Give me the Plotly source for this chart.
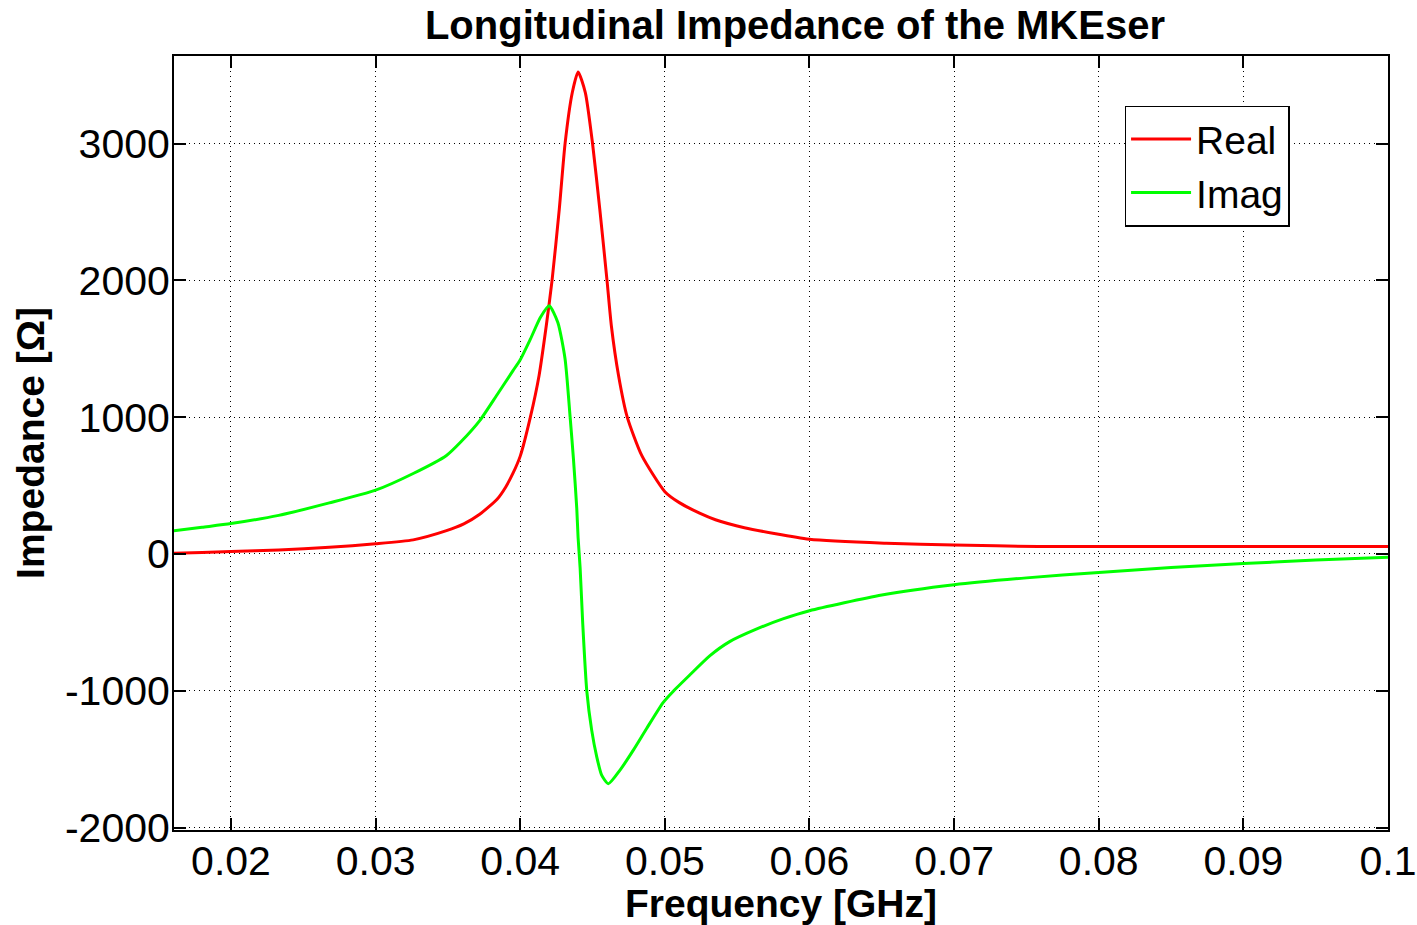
import plotly.graph_objects as go

freq_real = [0.016, 0.018, 0.02, 0.0233, 0.0268, 0.03, 0.0326, 0.0349, 0.0361, 0.0372,
             0.0384, 0.039, 0.0395, 0.04, 0.0407, 0.0413, 0.0418, 0.0422, 0.0427,
             0.0431, 0.0436, 0.044, 0.0445, 0.045, 0.0455, 0.046, 0.0463, 0.0468,
             0.0474, 0.0484, 0.05, 0.051, 0.0524, 0.0535, 0.0555, 0.06, 0.0653, 0.07,
             0.0758, 0.08, 0.09, 0.1]
z_real = [5, 10, 17, 29, 49, 74, 103, 170, 220, 290,
          400, 490, 590, 715, 1000, 1303, 1668, 2000, 2520,
          3000, 3373, 3523, 3373, 3000, 2520, 2000, 1668, 1303,
          1000, 720, 455, 375, 298, 250, 192, 107, 78, 66,
          54, 54, 54, 54]

freq_imag = [0.016, 0.018, 0.02, 0.0233, 0.0268, 0.03, 0.0326, 0.0349, 0.0359, 0.0372,
             0.0384, 0.0395, 0.04, 0.0407, 0.0414, 0.042, 0.0426, 0.0431, 0.04345,
             0.04368, 0.04391, 0.044, 0.04414, 0.04432, 0.0446, 0.04494, 0.04529,
             0.04563, 0.04609, 0.0469, 0.04782, 0.04874, 0.04989, 0.05057, 0.05172,
             0.0531, 0.05448, 0.05632, 0.05816, 0.06, 0.065, 0.07, 0.075, 0.08,
             0.085, 0.09, 0.095, 0.1]
z_imag = [168, 195, 222, 282, 373, 466, 588, 720, 820, 975,
          1164, 1340, 1420, 1570, 1730, 1814, 1692, 1425, 1000,
          694, 329, 120, -100, -507, -1000, -1288, -1483,
          -1617, -1680, -1580, -1434, -1276, -1085, -1005, -885,
          -745, -641, -550, -475, -415, -300, -225, -175, -135,
          -100, -70, -45, -24]

x_ticks = [0.02, 0.03, 0.04, 0.05, 0.06, 0.07, 0.08, 0.09, 0.1]
x_ticklabels = ["0.02", "0.03", "0.04", "0.05", "0.06", "0.07", "0.08", "0.09", "0.1"]
y_ticks = [-2000, -1000, 0, 1000, 2000, 3000]
y_ticklabels = ["-2000", "-1000", "0", "1000", "2000", "3000"]

font = "Liberation Sans, Arial, Helvetica, sans-serif"

fig = go.Figure()
fig.add_trace(go.Scatter(x=freq_real, y=z_real, mode="lines", name="Real",
                         line=dict(color="#FF0000", width=3, shape="spline", smoothing=0.6)))
fig.add_trace(go.Scatter(x=freq_imag, y=z_imag, mode="lines", name="Imag",
                         line=dict(color="#00FF00", width=3, shape="spline", smoothing=0.6)))

axis_common = dict(
    showline=True, linecolor="black", linewidth=2, mirror="ticks",
    ticks="inside", ticklen=12, tickwidth=1.5, tickcolor="black",
    showgrid=True, gridcolor="black", gridwidth=1, griddash="1px,4px",
    zeroline=False, automargin=False,
    tickfont=dict(family=font, size=41, color="black"),
)

fig.update_layout(
    width=1417, height=925,
    margin=dict(l=174, r=29, t=56, b=95),
    paper_bgcolor="white", plot_bgcolor="white",
    title=dict(text="<b>Longitudinal Impedance of the MKEser</b>",
               font=dict(family=font, size=40, color="black"),
               x=0.5115, xref="paper", xanchor="center", y=0.973, yanchor="middle"),
    xaxis=dict(range=[0.01606, 0.1], tickvals=x_ticks, ticktext=x_ticklabels,
               ticklabelstandoff=-6,
               title=dict(text="<b>Frequency [GHz]</b>", font=dict(family=font, size=39, color="black"),
                          standoff=4),
               **axis_common),
    yaxis=dict(range=[-2018, 3640], tickvals=y_ticks, ticktext=y_ticklabels,
               ticklabelstandoff=-6,
               title=dict(text="<b>Impedance [Ω]</b>", font=dict(family=font, size=39, color="black"),
                          standoff=8),
               **axis_common),
    legend=dict(x=0.783, y=0.936, xanchor="left", yanchor="top",
                bgcolor="white", bordercolor="black", borderwidth=1.5,
                font=dict(family=font, size=39, color="black"),
                itemwidth=60, tracegroupgap=0),
    showlegend=True,
)

fig.write_html("out.html")
